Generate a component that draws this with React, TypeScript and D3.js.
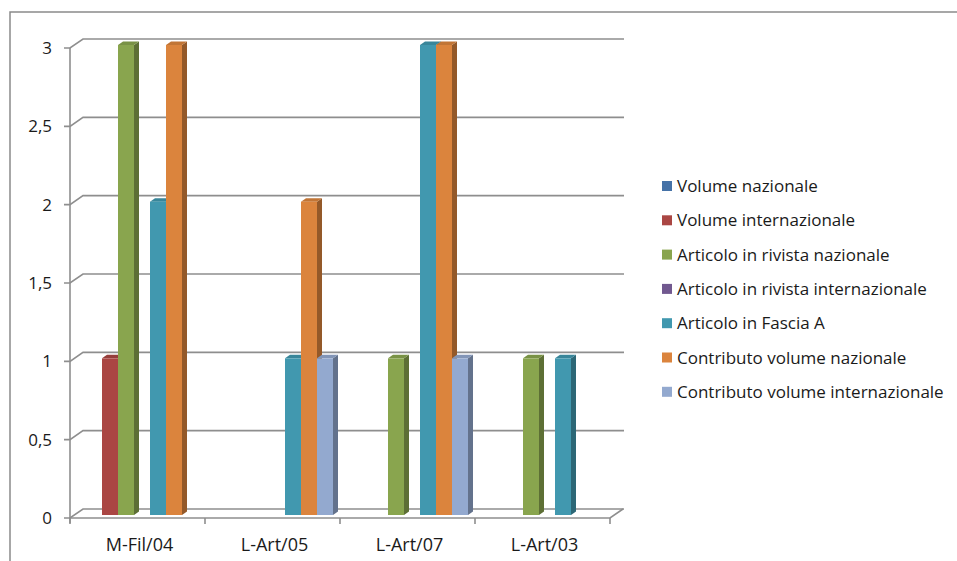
import * as d3 from 'd3'

const categories = ['M-Fil/04', 'L-Art/05', 'L-Art/07', 'L-Art/03']

const seriesNames = [
  'Volume nazionale',
  'Volume internazionale',
  'Articolo in rivista nazionale',
  'Articolo in rivista internazionale',
  'Articolo in Fascia A',
  'Contributo volume nazionale',
  'Contributo volume internazionale',
]

const volumeNazionale = [0, 0, 0, 0]
const volumeInternazionale = [1, 0, 0, 0]
const rivistaNazionale = [3, 0, 1, 1]
const rivistaInternazionale = [0, 0, 0, 0]
const fasciaA = [2, 1, 3, 1]
const contributoNazionale = [3, 2, 3, 0]
const contributoInternazionale = [0, 1, 1, 0]

const seriesValues = [
  volumeNazionale,
  volumeInternazionale,
  rivistaNazionale,
  rivistaInternazionale,
  fasciaA,
  contributoNazionale,
  contributoInternazionale,
]

const yTicks = [0, 0.5, 1, 1.5, 2, 2.5, 3]

const colors = ['#4572A7', '#AA4643', '#89A54E', '#71588F', '#4198AF', '#DB843D', '#93A9CF']

const W = 957
const H = 561
const FONT = 'Open Sans, sans-serif'

// 3D offsets
const BACK = {dx: 13, dy: -9}
const BAR_FRONT = {dx: 0, dy: -3}
const BAR_DEPTH = {dx: 5, dy: -3.5}

export default function App() {
  const x = d3.scaleBand<string>().domain(categories).range([70, 610])
  const inner = d3.scaleBand<string>().domain(seriesNames).range([16, 128])
  const y = d3.scaleLinear().domain([0, 3]).range([518, 48])
  const grid = '#8e8e8e'

  const poly = (pts: [number, number][]) => d3.line()(pts.concat([pts[0]])) ?? undefined

  const x0 = x.range()[0]
  const x1 = x.range()[1]

  const bars: JSX.Element[] = []
  categories.forEach((cat, ci) => {
    seriesNames.forEach((name, si) => {
      const v = seriesValues[si][ci]
      if (!v) return
      const bx = (x(cat) ?? 0) + (inner(name) ?? 0) + BAR_FRONT.dx
      const bw = inner.bandwidth()
      const top = y(v) + BAR_FRONT.dy
      const bot = y(0) + BAR_FRONT.dy
      const c = colors[si]
      const side = d3.color(c)!.darker(1.1).formatHex()
      const topC = d3.color(c)!.darker(0.35).formatHex()
      const {dx, dy} = BAR_DEPTH
      bars.push(
        <g key={`${ci}-${si}`}>
          <path d={poly([[bx + bw, top], [bx + bw + dx, top + dy], [bx + bw + dx, bot + dy], [bx + bw, bot]])} fill={side} />
          <path d={poly([[bx, top], [bx + dx, top + dy], [bx + bw + dx, top + dy], [bx + bw, top]])} fill={topC} />
          <rect x={bx} y={top} width={bw} height={bot - top} fill={c} />
        </g>
      )
    })
  })

  return (
    <svg width={W} height={H} style={{position: 'absolute', left: 0, top: 0, background: '#fff'}} fontFamily={FONT}>
      {/* outer frame */}
      <path d={d3.line()([[10, H + 5], [10, 12], [W + 5, 12]]) ?? undefined} fill="none" stroke="#8a8a8a" strokeWidth={1.5} />

      {/* back wall gridlines with side wall diagonals */}
      {yTicks.map(t => (
        <path
          key={t}
          d={d3.line()([
            [x0 - 6, y(t)],
            [x0, y(t)],
            [x0 + BACK.dx, y(t) + BACK.dy],
            [x1 + BACK.dx + 1, y(t) + BACK.dy],
          ]) ?? undefined}
          fill="none"
          stroke={grid}
          strokeWidth={1.6}
        />
      ))}

      {/* floor front edge and right diagonal */}
      <path
        d={d3.line()([
          [x0, y(0)],
          [x1, y(0)],
          [x1 + BACK.dx, y(0) + BACK.dy],
        ]) ?? undefined}
        fill="none"
        stroke={grid}
        strokeWidth={1.6}
      />
      {/* y axis line */}
      <path d={d3.line()([[x0, y(3)], [x0, y(0) + 5]]) ?? undefined} fill="none" stroke={grid} strokeWidth={1.6} />
      {/* category ticks */}
      {categories.map(c => {
        const tx = (x(c) ?? 0) + x.bandwidth()
        return <path key={c} d={d3.line()([[tx, y(0)], [tx, y(0) + 6]]) ?? undefined} stroke={grid} strokeWidth={1.6} />
      })}
      <path d={d3.line()([[x0, y(0)], [x0, y(0) + 6]]) ?? undefined} stroke={grid} strokeWidth={1.6} />

      {bars}

      {/* y labels */}
      {yTicks.map(t => (
        <text key={t} x={52} y={y(t) + 6} textAnchor="end" fontSize={17} fill="#1a1a1a">
          {String(t).replace('.', ',')}
        </text>
      ))}

      {/* x labels */}
      {categories.map(c => (
        <text key={c} x={(x(c) ?? 0) + x.bandwidth() / 2 + 2} y={551} textAnchor="middle" fontSize={18} fill="#1a1a1a">
          {c}
        </text>
      ))}

      {/* legend */}
      {seriesNames.map((name, i) => {
        const ly = 186 + i * 34.3
        return (
          <g key={name}>
            <rect x={662} y={ly - 5} width={10} height={10} fill={colors[i]} />
            <text x={677} y={ly + 6} fontSize={17} fill="#1a1a1a">
              {name}
            </text>
          </g>
        )
      })}
    </svg>
  )
}
